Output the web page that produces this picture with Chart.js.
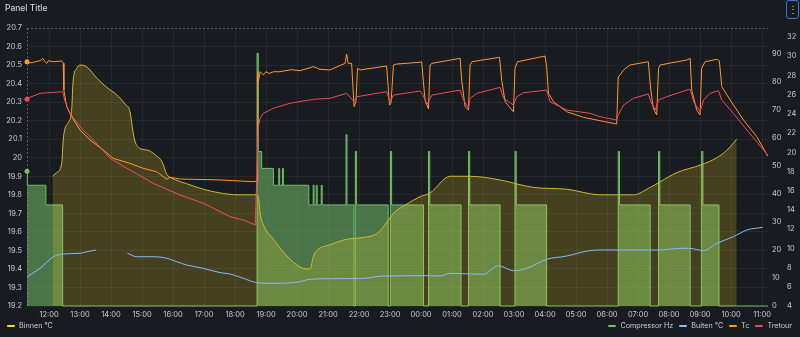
<!DOCTYPE html>
<html>
<head>
<meta charset="utf-8">
<script src="https://cdn.jsdelivr.net/npm/chart.js@4.4.1/dist/chart.umd.min.js"></script>
<style>
  html, body { margin: 0; padding: 0; background: #181b1f; }
  #panel { position: relative; width: 800px; height: 337px; background: #181b1f; overflow: hidden;
           font-family: Inter, 'Noto Sans', sans-serif; color: #ccccdc; }
  #chart { position: absolute; left: 0; top: 0; }
  #title { position: absolute; left: 5px; top: 3px; font-size: 8.5px; font-weight: 500; }
  #menu { position: absolute; left: 786px; top: 0; width: 13px; height: 19px; box-sizing: border-box;
          border: 1px solid #3d71d9; border-radius: 3px; font-size: 10px; line-height: 17px; text-align: center; }
  .item { position: absolute; top: 320px; font-size: 7.2px; line-height: 12px; white-space: nowrap; }
  .item i { display: inline-block; width: 8px; height: 2px; border-radius: 1px; margin-right: 4px; vertical-align: middle; }
  #rightLegend { position: absolute; right: 8px; top: 320px; display: flex; gap: 6px; }
  #rightLegend .item { position: static; }
</style>
</head>
<body>
<div id="panel">
  <canvas id="chart" width="800" height="337"></canvas>
  <div id="title">Panel Title</div>
  <div id="menu">&#8942;</div>
  <div class="item" style="left:7px"><i style="background:#fade2a"></i>Binnen °C</div>
  <div id="rightLegend">
    <div class="item"><i style="background:#73bf69"></i>Compressor Hz</div>
    <div class="item"><i style="background:#8ab8ff"></i>Buiten °C</div>
    <div class="item"><i style="background:#ff9830"></i>Tc</div>
    <div class="item"><i style="background:#f2495c"></i>Tretour</div>
  </div>
</div>
<script>
// tijd in uren vanaf middernacht van dag 1 (24+ = volgende dag)
const X_MIN = 11.29;
const X_MAX = 35.19;

// as-labels
const hourTicks = [12, 13, 14, 15, 16, 17, 18, 19, 20, 21, 22, 23, 24, 25, 26, 27, 28, 29, 30, 31, 32, 33, 34, 35];
const hzTicks = [0, 10, 20, 30, 40, 50, 60, 70, 80, 90];
const tempTicks = [4, 6, 8, 10, 12, 14, 16, 18, 20, 22, 24, 26, 28, 30, 32];

// binnentemperatuur (linker as)
const binnen = [
  [12.11, 19.90], [12.25, 19.92], [12.41, 19.97], [12.46, 20.10], [12.52, 20.16], [12.62, 20.19],
  [12.73, 20.26], [12.78, 20.42], [12.89, 20.48], [13.0, 20.50], [13.22, 20.49], [13.54, 20.43],
  [13.86, 20.38], [14.18, 20.34], [14.45, 20.29], [14.61, 20.25], [14.70, 20.15], [14.77, 20.09],
  [14.94, 20.05], [15.2, 20.04], [15.47, 20.01], [15.64, 19.98], [15.80, 19.91], [15.96, 19.89],
  [16.44, 19.86], [16.98, 19.83], [17.52, 19.81], [18.10, 19.80], [18.68, 19.80], [18.75, 19.79],
  [18.81, 19.70], [18.91, 19.64], [19.24, 19.56], [19.67, 19.47], [20.10, 19.41], [20.31, 19.40],
  [20.42, 19.40], [20.53, 19.47], [20.64, 19.50], [21.06, 19.53], [21.6, 19.56], [22.14, 19.57],
  [22.57, 19.59], [22.89, 19.65], [23.11, 19.70], [23.54, 19.75], [23.97, 19.79], [24.29, 19.81],
  [24.94, 19.90], [25.58, 19.90], [26.55, 19.88], [27.62, 19.84], [28.70, 19.83], [29.77, 19.80],
  [30.31, 19.80], [30.85, 19.80], [31.39, 19.84], [31.71, 19.87], [32.25, 19.92], [33.0, 19.96],
  [33.54, 20.00], [33.86, 20.04], [34.18, 20.10]
];

// compressor frequentie, waarde geldt tot het volgende punt
const compressor = [
  [11.29, 48], [11.30, 43], [11.90, 36], [12.44, 0],
  [18.71, 90], [18.75, 55], [18.86, 49], [19.24, 43], [19.41, 49], [19.44, 43], [19.53, 49], [19.56, 43],
  [20.38, 36], [20.52, 43], [20.55, 36], [20.62, 43], [20.65, 36], [20.78, 43], [20.81, 36],
  [21.58, 61], [21.61, 36], [21.84, 0], [21.88, 55], [21.92, 36],
  [22.94, 0], [23.01, 55], [23.05, 36], [24.08, 0], [24.24, 55], [24.28, 36],
  [25.29, 0], [25.53, 55], [25.57, 36], [26.55, 0], [27.03, 55], [27.07, 36],
  [28.05, 0], [30.36, 55], [30.40, 36], [31.39, 0], [31.66, 55], [31.70, 36],
  [32.68, 0], [33.05, 55], [33.09, 36], [33.61, 0], [35.19, 0]
];

// buitentemperatuur, null = geen data
const buiten = [
  [11.30, 7.05], [11.71, 7.92], [12.14, 9.13], [12.46, 9.41], [13.0, 9.49], [13.22, 9.65], [13.52, 9.83],
  [14.0, null],
  [14.53, 9.49], [14.83, 9.13], [15.36, 9.13], [15.80, 8.97], [16.12, 8.61], [16.44, 8.27], [16.98, 7.92],
  [17.52, 7.47], [17.84, 7.33], [18.27, 6.88], [18.70, 6.43], [19.13, 6.36], [19.99, 6.47], [20.42, 6.78],
  [21.06, 6.84], [22.14, 6.88], [22.78, 7.12], [24.29, 7.15], [24.61, 7.12], [24.94, 7.40], [26.01, 7.30],
  [26.49, 8.19], [26.98, 7.67], [27.41, 7.92], [28.05, 8.86], [28.70, 9.20], [29.35, 9.72], [29.77, 9.83],
  [31.60, 9.83], [32.46, 10.01], [32.68, 10.0], [33.11, 9.76], [33.54, 10.53], [34.07, 11.21],
  [34.51, 11.91], [35.02, 12.19]
];

// condensortemperatuur
const tc = [
  [11.29, 29.43], [11.30, 29.26], [11.49, 29.37], [11.71, 29.53], [11.80, 29.78], [11.87, 29.43],
  [11.93, 29.26], [11.98, 29.53], [12.14, 29.43], [12.41, 29.50], [12.46, 29.26], [12.48, 26.48],
  [12.57, 24.75], [12.73, 23.70], [13.0, 22.32], [13.32, 21.28], [13.75, 20.24], [14.07, 19.37],
  [14.61, 18.85], [15.04, 18.33], [15.47, 17.98], [15.80, 17.19], [15.90, 17.40], [16.23, 17.22],
  [17.52, 17.12], [18.59, 16.94], [18.71, 17.0], [18.73, 28.39], [18.75, 27.35], [18.81, 28.39],
  [18.91, 28.05], [19.0, 28.4], [19.1, 28.2], [19.24, 28.39], [19.45, 28.39], [19.8, 28.6],
  [20.1, 28.5], [20.53, 28.91], [20.74, 28.64], [21.06, 28.57], [21.55, 29.26], [21.60, 30.23],
  [21.65, 29.26], [21.76, 29.26], [21.84, 24.75], [21.90, 25.27], [21.95, 28.74], [22.03, 28.57],
  [22.89, 28.98], [22.98, 24.92], [23.03, 25.10], [23.11, 29.09], [23.22, 29.19], [23.97, 29.37],
  [24.02, 29.43], [24.07, 27.52], [24.13, 25.44], [24.24, 24.51], [24.29, 29.09], [24.35, 29.26],
  [25.26, 29.78], [25.31, 27.52], [25.42, 24.75], [25.53, 24.40], [25.58, 29.09], [25.64, 29.43],
  [26.53, 29.89], [26.60, 27.52], [26.71, 25.27], [26.98, 24.22], [27.03, 28.74], [27.11, 29.43],
  [28.0, 30.02], [28.05, 28.91], [28.11, 26.14], [28.27, 25.27], [28.70, 24.22], [29.24, 23.64],
  [29.77, 23.29], [30.31, 22.94], [30.36, 27.87], [30.42, 28.05], [30.53, 28.57], [30.74, 29.09],
  [31.33, 29.43], [31.41, 26.48], [31.49, 24.58], [31.60, 23.88], [31.66, 28.74], [31.71, 29.09],
  [32.57, 29.61], [32.68, 29.78], [32.73, 26.48], [32.89, 24.40], [33.0, 23.88], [33.05, 28.74],
  [33.16, 29.43], [33.54, 29.68], [33.62, 29.53], [33.70, 26.83], [33.97, 25.44], [34.40, 23.36],
  [34.83, 21.62], [35.18, 19.61]
];

// retourtemperatuur
const tretour = [
  [11.29, 25.52], [11.30, 25.62], [11.71, 26.14], [12.14, 26.24], [12.44, 26.31], [12.52, 25.27],
  [12.68, 24.06], [13.0, 22.66], [13.43, 21.28], [13.97, 19.37], [14.61, 18.16], [15.36, 16.77],
  [16.23, 15.55], [16.98, 14.69], [17.52, 13.82], [17.84, 13.30], [18.27, 12.95], [18.65, 12.43],
  [18.70, 17.12], [18.75, 22.66], [18.81, 23.54], [18.91, 24.06], [19.24, 24.58], [19.77, 25.10],
  [20.53, 25.52], [21.06, 25.62], [21.60, 26.14], [21.84, 25.27], [21.93, 25.79], [22.89, 26.31],
  [23.0, 25.27], [23.11, 25.96], [23.97, 26.38], [24.07, 25.96], [24.18, 24.92], [24.27, 25.44],
  [24.35, 25.96], [25.26, 26.48], [25.37, 25.44], [25.53, 24.58], [25.58, 25.62], [25.80, 26.14],
  [26.55, 26.76], [26.66, 25.62], [26.98, 24.92], [27.09, 25.79], [27.30, 26.20], [28.05, 26.48],
  [28.16, 25.27], [28.70, 24.40], [29.45, 24.06], [29.77, 23.70], [30.31, 23.36], [30.36, 23.88],
  [30.53, 24.92], [30.85, 25.62], [31.33, 26.07], [31.41, 25.27], [31.55, 24.40], [31.66, 25.44],
  [31.93, 25.79], [32.57, 26.48], [32.68, 26.56], [32.79, 25.27], [33.0, 24.22], [33.11, 25.44],
  [33.32, 26.14], [33.59, 26.41], [33.70, 25.44], [34.07, 24.06], [34.51, 22.32], [35.18, 19.72]
];

const TEXT = '#c7c9d3';
const GRID = 'rgba(204,204,220,0.07)';
const FONT = { family: 'Inter', size: 7.5 };

const pts = arr => arr.map(p => ({ x: p[0], y: p[1] }));
const firstDot = ctx => (ctx.dataIndex === 0 ? 2.5 : 0);
const fixedTicks = list => scale => { scale.ticks = list.map(v => ({ value: v })); };

function fmtHour(v) {
  const h = ((Math.round(v) % 24) + 24) % 24;
  return String(h).padStart(2, '0') + ':00';
}

// gestippelde bovenrand en linkerrand van het plotvlak
const dashedEdges = {
  id: 'dashedEdges',
  beforeDatasetsDraw(chart) {
    const { ctx, chartArea: a } = chart;
    ctx.save();
    ctx.strokeStyle = 'rgba(204,204,220,0.35)';
    ctx.lineWidth = 1;
    ctx.setLineDash([2, 2]);
    ctx.beginPath();
    ctx.moveTo(a.left, a.top + 0.5);
    ctx.lineTo(a.right, a.top + 0.5);
    ctx.moveTo(a.left + 0.5, a.top);
    ctx.lineTo(a.left + 0.5, a.bottom);
    ctx.stroke();
    ctx.restore();
  }
};

const sideAxis = (min, max, list, width, weight) => ({
  position: 'right', min, max, weight, bounds: 'data',
  afterFit: s => { s.width = width; },
  afterBuildTicks: fixedTicks(list),
  grid: { display: false, drawTicks: false },
  border: { display: false },
  ticks: { padding: 4, color: TEXT, font: FONT }
});

new Chart(document.getElementById('chart'), {
  type: 'line',
  data: {
    datasets: [
      { label: 'Tretour', data: pts(tretour), yAxisID: 'y2', borderColor: '#f2495c',
        pointRadius: firstDot, pointBackgroundColor: '#f2495c', pointBorderWidth: 0, clip: 6 },
      { label: 'Tc', data: pts(tc), yAxisID: 'y2', borderColor: '#ff9830',
        pointRadius: firstDot, pointBackgroundColor: '#ff9830', pointBorderWidth: 0, clip: 6 },
      { label: 'Buiten °C', data: pts(buiten), yAxisID: 'y2', borderColor: '#8ab8ff',
        cubicInterpolationMode: 'monotone', spanGaps: false },
      { label: 'Binnen °C', data: pts(binnen), yAxisID: 'y', borderColor: '#d0ba2c',
        backgroundColor: 'rgba(250,222,42,0.2)', fill: 'start', cubicInterpolationMode: 'monotone' },
      { label: 'Compressor Hz', data: pts(compressor), yAxisID: 'y1', borderColor: '#73bf69',
        backgroundColor: 'rgba(115,191,105,0.55)', fill: 'origin', stepped: true,
        pointRadius: firstDot, pointBackgroundColor: '#73bf69', pointBorderWidth: 0, clip: 6 }
    ]
  },
  options: {
    responsive: false,
    animation: false,
    layout: { padding: { top: 28, bottom: 17, left: 0, right: 0 } },
    elements: { point: { radius: 0, hoverRadius: 0 }, line: { borderWidth: 1, tension: 0 } },
    plugins: { legend: { display: false }, tooltip: { enabled: false } },
    scales: {
      x: {
        type: 'linear', min: X_MIN, max: X_MAX, bounds: 'data',
        afterFit: s => { s.height = 14; },
        afterBuildTicks: fixedTicks(hourTicks),
        grid: { color: GRID, drawTicks: false },
        border: { display: false },
        ticks: { autoSkip: false, maxRotation: 0, padding: 4, color: TEXT, font: FONT, callback: fmtHour }
      },
      y: {
        position: 'left', min: 19.2, max: 20.7, bounds: 'data',
        afterFit: s => { s.width = 27; },
        grid: { drawTicks: false, color: c => (c.tick && c.tick.value > 20.65 ? 'transparent' : GRID) },
        border: { display: false },
        ticks: { stepSize: 0.1, padding: 5, color: TEXT, font: FONT,
                 callback: v => String(Math.round(v * 10) / 10) }
      },
      y1: sideAxis(0, 99, hzTicks, 15, 0),
      y2: sideAxis(4, 32.94, tempTicks, 17, 1)
    }
  },
  plugins: [dashedEdges]
});
</script>
</body>
</html>
